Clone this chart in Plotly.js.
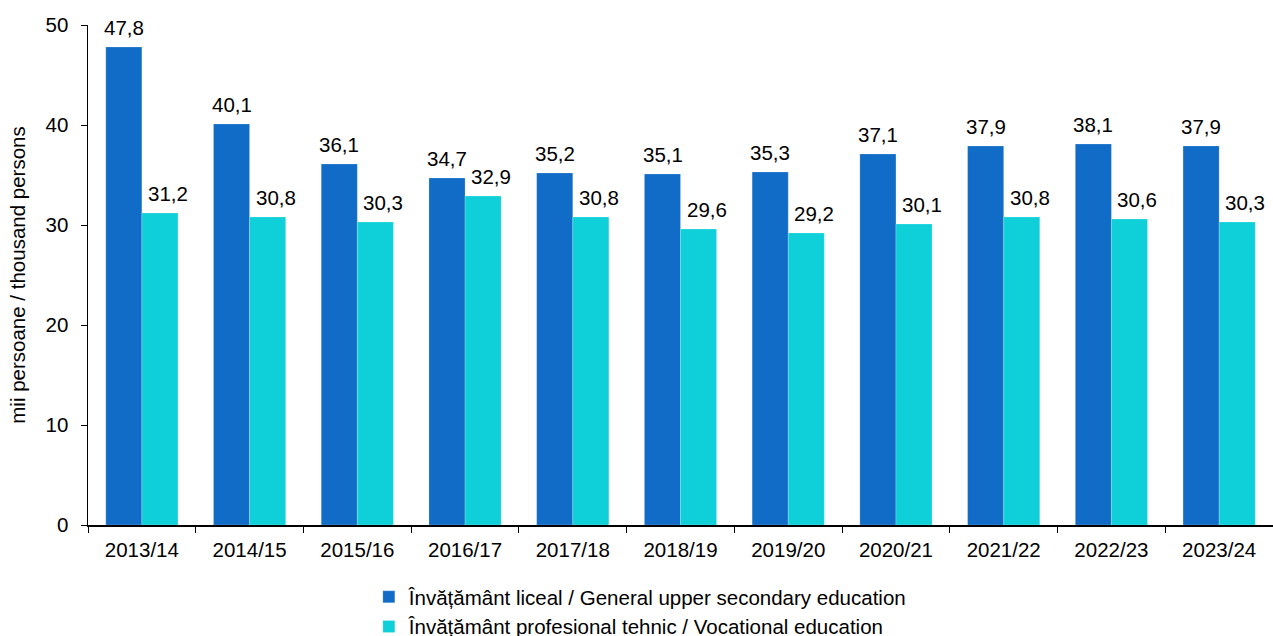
<!DOCTYPE html>
<html><head><meta charset="utf-8">
<script src="https://cdn.plot.ly/plotly-3.0.1.min.js"></script>
<style>body{margin:0;background:#fff}#c{width:1273px;height:636px}</style>
</head><body><div id="c"></div>
<script>
const categories = ["2013/14","2014/15","2015/16","2016/17","2017/18","2018/19","2019/20","2020/21","2021/22","2022/23","2023/24"];
const generalValues = [47.8,40.1,36.1,34.7,35.2,35.1,35.3,37.1,37.9,38.1,37.9];
const vocationalValues = [31.2,30.8,30.3,32.9,30.8,29.6,29.2,30.1,30.8,30.6,30.3];
const seriesNames = ["Învățământ liceal / General upper secondary education","Învățământ profesional tehnic / Vocational education"];
const yTitle = "mii persoane / thousand persons";
const font = "Liberation Sans, Arial, sans-serif";
const FS = 20.5;
function mk(vals,name,color){
  return {type:"bar",x:categories,y:vals,name:name,
    marker:{color:color,line:{color:"rgba(255,255,255,0.4)",width:0.5}},
    hoverinfo:"none"};
}
const fmt = v => v.toFixed(1).replace(".",",");
const data=[mk(generalValues,seriesNames[0],"#106CC6"),mk(vocationalValues,seriesNames[1],"#0FD0D9")];
const annotations=[];
categories.forEach((c,i)=>{
  annotations.push({x:c,y:generalValues[i],text:fmt(generalValues[i]),showarrow:false,xshift:-18,yshift:6,yanchor:"bottom",
    font:{family:font,size:FS,color:"#000"}});
  annotations.push({x:c,y:vocationalValues[i],text:fmt(vocationalValues[i]),showarrow:false,xshift:26,yshift:6,yanchor:"bottom",
    font:{family:font,size:FS,color:"#000"}});
});
const layout={
  width:1273,height:636,margin:{l:88,r:0,t:25,b:111,autoexpand:false},
  paper_bgcolor:"#fff",plot_bgcolor:"#fff",
  font:{family:font,size:FS,color:"#000"},
  barmode:"group",bargap:0.33,bargroupgap:0,
  annotations:annotations,
  xaxis:{showline:true,linecolor:"#000",linewidth:1.5,ticks:"outside",tickson:"boundaries",ticklen:6,tickcolor:"#000",
    ticklabelstandoff:6,tickfont:{family:font,size:FS,color:"#000"},showgrid:false,zeroline:false,automargin:false},
  yaxis:{range:[0,50],dtick:10,showline:true,linecolor:"#000",linewidth:1.5,ticks:"outside",ticklen:6,tickcolor:"#000",
    ticklabelstandoff:8,showgrid:false,zeroline:false,automargin:false,tickfont:{family:font,size:FS,color:"#000"},
    title:{text:yTitle,font:{family:font,size:FS,color:"#000"},standoff:14}},
  showlegend:true,
  legend:{orientation:"v",x:0.237,xanchor:"left",y:-0.104,yanchor:"top",font:{family:font,size:FS,color:"#000"},
    itemwidth:30,tracegroupgap:0,traceorder:"normal"}
};
Plotly.newPlot("c",data,layout,{staticPlot:true});
</script></body></html>
